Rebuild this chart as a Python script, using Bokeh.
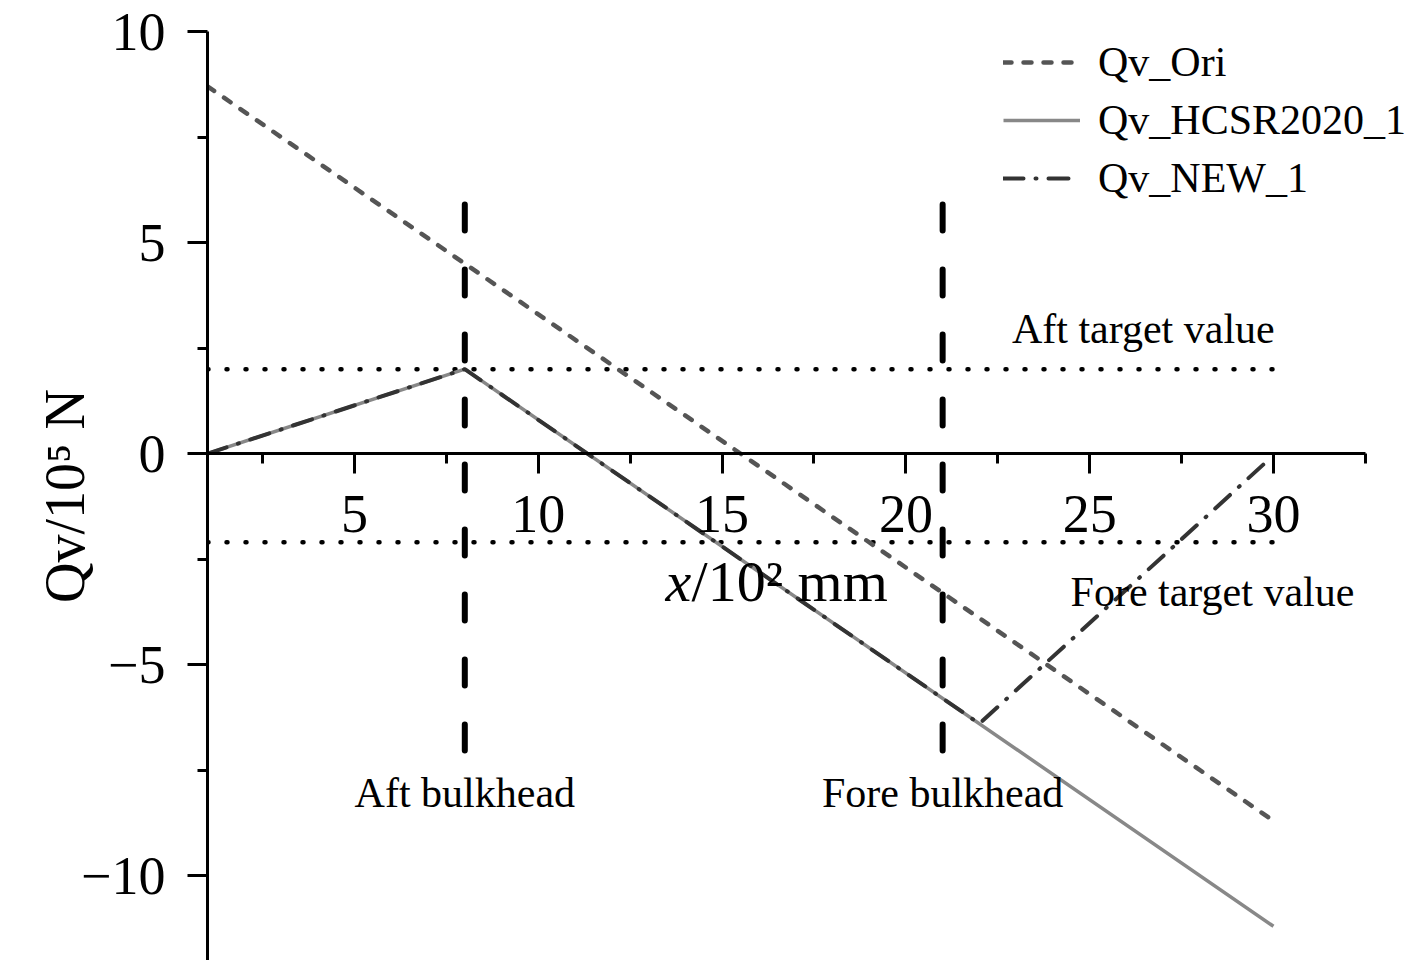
from bokeh.plotting import figure
from bokeh.models import FixedTicker, Range1d, Legend, LegendItem, Label
from bokeh.embed import file_html
from bokeh.resources import INLINE
from bokeh.core.properties import value

# ---------------- data ----------------
ori_x = [1, 30]
ori_y = [8.7, -8.7]
hcsr_x = [1, 8, 30]
hcsr_y = [0.0, 2.0, -11.2]
new_x = [1, 8, 22, 29.8]
new_y = [0.0, 2.0, -6.4, -0.2]

bulkhead_x = [8, 21]
bulkhead_names = ["Aft bulkhead", "Fore bulkhead"]
bulkhead_top = [5.9, 5.9]
bulkhead_bottom = [-7.1, -7.1]
bulkhead_label_y = [-8.03, -8.03]

target_y = [2.0, -2.1]
target_x_start = [1, 1]
target_x_end = [30, 30]
target_names = ["Aft target value", "Fore target value"]
target_label_x = [26.46, 28.34]
target_label_y = [2.94, -3.27]

x_ticks = [5, 10, 15, 20, 25, 30]
x_minor = [2.5, 7.5, 12.5, 17.5, 22.5, 27.5, 32.5]
y_ticks = [-10, -5, 0, 5, 10]
y_tick_labels = ["\u221210", "\u22125", "0", "5", "10"]
y_minor = [-7.5, -2.5, 2.5, 7.5]

series_names = ["Qv_Ori", "Qv_HCSR2020_1", "Qv_NEW_1"]

FONT = "Liberation Serif"

p = figure(frame_width=1206, frame_height=929,
           x_range=Range1d(1, 33.81), y_range=Range1d(-12.01, 10),
           output_backend="svg", toolbar_location=None,
           min_border_left=207, min_border_right=0,
           min_border_top=31, min_border_bottom=0)

p.xgrid.visible = False
p.ygrid.visible = False
p.outline_line_color = None
p.background_fill_color = "white"

p.xaxis.fixed_location = 0
p.xaxis.bounds = (1, 32.5)
for ax in (p.xaxis[0], p.yaxis[0]):
    ax.axis_line_width = 3
    ax.axis_line_color = "black"
    ax.major_tick_line_width = 3
    ax.minor_tick_line_width = 3
    ax.major_tick_line_color = "black"
    ax.minor_tick_line_color = "black"
    ax.major_tick_out = 20
    ax.major_tick_in = 0
    ax.minor_tick_out = 10
    ax.minor_tick_in = 0
    ax.major_label_text_font = FONT
    ax.major_label_text_font_size = "54px"
    ax.major_label_text_color = "black"

p.xaxis.ticker = FixedTicker(ticks=x_ticks, minor_ticks=x_minor)
p.yaxis.ticker = FixedTicker(ticks=y_ticks, minor_ticks=y_minor)
p.yaxis.major_label_overrides = {t: l for t, l in zip(y_ticks, y_tick_labels)}
p.xaxis.major_label_standoff = 22
p.yaxis.major_label_standoff = 22

p.yaxis.axis_label = "Qv/10\u2075 N"
p.yaxis.axis_label_text_font = FONT
p.yaxis.axis_label_text_font_style = "normal"
p.yaxis.axis_label_text_font_size = "56px"
p.yaxis.axis_label_text_color = "black"
p.yaxis.axis_label_standoff = -18

# target lines (dotted)
p.segment(x0=target_x_start, y0=target_y, x1=target_x_end, y1=target_y,
          line_color="black", line_width=4.5, line_dash="1 18", line_cap="round")

# series
r_ori = p.line(ori_x, ori_y, line_color="#555555", line_width=4.5,
               line_dash="8 12", line_cap="round")
r_hcsr = p.line(hcsr_x, hcsr_y, line_color="#888888", line_width=3.5)
r_new = p.line(new_x, new_y, line_color="#333333", line_width=4,
               line_dash="20 12 1 12", line_cap="round")

# bulkheads
p.segment(x0=bulkhead_x, y0=bulkhead_top, x1=bulkhead_x, y1=bulkhead_bottom,
          line_color="black", line_width=6, line_dash="26 39", line_cap="round")

# texts
p.text(x=target_label_x, y=target_label_y, text=target_names,
       text_font=value(FONT), text_font_size="42px", text_color="black",
       text_align="center", text_baseline="alphabetic")
p.text(x=bulkhead_x, y=bulkhead_label_y, text=bulkhead_names,
       text_font=value(FONT), text_font_size="42px", text_color="black",
       text_align="center", text_baseline="alphabetic")

# x axis label (inside plot)
p.add_layout(Label(x=13.46, y=-3.03, text="x", text_font=FONT,
                   text_font_style="italic", text_font_size="58px",
                   text_color="black", text_align="left", text_baseline="alphabetic"))
p.add_layout(Label(x=14.17, y=-3.03, text="/10\u00b2 mm", text_font=FONT,
                   text_font_size="58px", text_color="black",
                   text_align="left", text_baseline="alphabetic"))

legend = Legend(items=[LegendItem(label=series_names[0], renderers=[r_ori]),
                       LegendItem(label=series_names[1], renderers=[r_hcsr]),
                       LegendItem(label=series_names[2], renderers=[r_new])],
                location=(796, 758))
legend.label_text_font = FONT
legend.label_text_font_size = "42px"
legend.label_text_color = "black"
legend.glyph_width = 77
legend.glyph_height = 40
legend.label_height = 40
legend.spacing = 10
legend.padding = 0
legend.margin = 0
legend.label_standoff = 18
legend.border_line_alpha = 0
legend.background_fill_alpha = 0
p.add_layout(legend)

open("out.html", "w").write(file_html(p, INLINE))
